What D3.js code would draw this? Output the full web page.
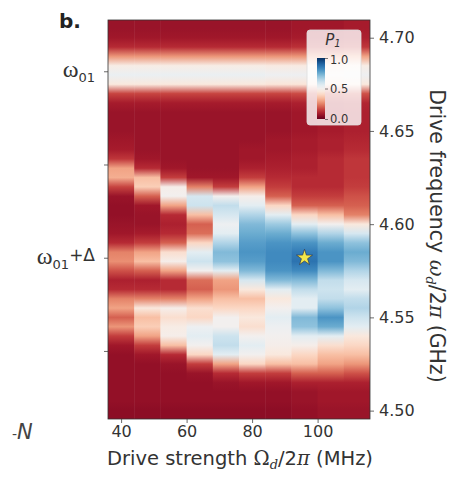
<!DOCTYPE html>
<html>
<head>
<meta charset="utf-8">
<script src="https://cdn.jsdelivr.net/npm/d3@7"></script>
<style>
  html, body { margin: 0; padding: 0; background: #fff; }
  svg { display: block; }
  text { font-family: "DejaVu Sans", sans-serif; }
</style>
</head>
<body>
<svg id="chart" width="456" height="477"></svg>
<script>
// Drive strength columns (MHz), 8 MHz wide each
const driveStrength = [40, 48, 56, 64, 72, 80, 88, 96, 104, 112];

// Drive frequency rows (GHz), top to bottom
const driveFreq = [4.710, 4.705, 4.700, 4.695, 4.690, 4.685, 4.680, 4.675, 4.670, 4.665,
                   4.660, 4.655, 4.650, 4.645, 4.640, 4.635, 4.630, 4.625, 4.620, 4.615,
                   4.610, 4.605, 4.600, 4.595, 4.590, 4.585, 4.580, 4.575, 4.570, 4.565,
                   4.560, 4.555, 4.550, 4.545, 4.540, 4.535, 4.530, 4.525, 4.520, 4.515,
                   4.510, 4.505, 4.500, 4.495];

// Excited-state population P1, one array per drive strength (rows as in driveFreq)
const p1_40  = [.07,.07,.08,.12,.28,.47,.53,.45,.16,.09,.07,.07,.07,.08,.09,.14,.30,.32,.16,.07,
                .06,.06,.07,.08,.12,.25,.27,.18,.10,.12,.25,.30,.20,.28,.15,.08,.06,.06,.06,.06,
                .06,.06,.05,.05];
const p1_48  = [.07,.07,.08,.12,.28,.47,.53,.45,.16,.09,.07,.07,.07,.07,.07,.08,.12,.35,.38,.20,
                .08,.07,.07,.09,.15,.30,.35,.20,.10,.12,.25,.45,.35,.38,.30,.15,.08,.06,.06,.06,
                .06,.06,.05,.05];
const p1_56  = [.07,.07,.08,.12,.28,.47,.53,.45,.16,.09,.07,.07,.07,.07,.07,.07,.08,.15,.48,.50,
                .30,.12,.10,.12,.20,.42,.48,.30,.12,.12,.25,.48,.42,.47,.48,.35,.12,.07,.06,.06,
                .06,.06,.05,.05];
const p1_64  = [.07,.07,.08,.12,.28,.47,.53,.45,.16,.09,.07,.07,.07,.07,.07,.07,.07,.08,.25,.58,
                .60,.35,.20,.22,.40,.55,.60,.50,.22,.20,.30,.42,.40,.52,.55,.50,.40,.15,.07,.06,
                .06,.06,.05,.05];
const p1_72  = [.07,.07,.08,.12,.28,.47,.53,.45,.16,.09,.07,.07,.07,.07,.07,.07,.07,.08,.15,.50,
                .62,.58,.52,.55,.65,.72,.70,.55,.30,.28,.35,.40,.50,.50,.60,.62,.55,.30,.12,.07,
                .06,.06,.05,.05];
const p1_80  = [.07,.07,.08,.12,.28,.47,.53,.45,.16,.09,.07,.07,.07,.07,.08,.08,.10,.15,.30,.48,
                .55,.65,.72,.75,.78,.80,.78,.72,.58,.45,.35,.40,.45,.42,.50,.55,.50,.40,.15,.08,
                .06,.06,.05,.05];
const p1_88  = [.07,.07,.08,.12,.28,.46,.52,.44,.16,.09,.07,.07,.07,.08,.08,.09,.10,.12,.15,.20,
                .40,.55,.68,.75,.80,.82,.82,.80,.72,.55,.45,.50,.55,.52,.50,.48,.45,.35,.15,.08,
                .06,.06,.05,.05];
const p1_96  = [.08,.08,.09,.13,.28,.46,.52,.44,.17,.10,.08,.08,.08,.09,.09,.10,.10,.12,.12,.15,
                .20,.40,.55,.70,.80,.85,.87,.82,.72,.62,.55,.55,.72,.70,.55,.48,.40,.35,.20,.10,
                .07,.07,.06,.06];
const p1_104 = [.08,.08,.09,.13,.28,.45,.50,.43,.17,.10,.09,.09,.09,.10,.10,.12,.12,.12,.12,.15,
                .20,.35,.50,.65,.75,.80,.80,.72,.62,.60,.62,.70,.80,.75,.55,.42,.35,.30,.20,.10,
                .08,.08,.07,.07];
const p1_112 = [.09,.09,.10,.14,.30,.47,.52,.45,.18,.11,.10,.10,.10,.11,.12,.14,.14,.14,.15,.18,
                .20,.25,.45,.58,.70,.75,.72,.65,.58,.55,.62,.65,.60,.55,.45,.40,.35,.28,.18,.10,
                .08,.08,.07,.07];
const p1Columns = [p1_40, p1_48, p1_56, p1_64, p1_72, p1_80, p1_88, p1_96, p1_104, p1_112];

// Axis ticks
const xTicks = [40, 60, 80, 100];
const yTicks = [4.50, 4.55, 4.60, 4.65, 4.70];
const levelFreqs = [4.682, 4.632, 4.582, 4.532];
const colorbarTicks = [0.0, 0.5, 1.0];

// Operating point marked by the star
const starPoint = { drive: 96, freq: 4.582 };

const svg = d3.select("#chart");
const plot = { left: 108, right: 370, top: 20, bottom: 419 };
const colWidth = 8;

const x = d3.scaleLinear()
  .domain([driveStrength[0] - colWidth / 2, driveStrength[driveStrength.length - 1] + colWidth / 2])
  .range([plot.left, plot.right]);
const y = d3.scaleLinear().domain([4.4955, 4.7095]).range([plot.bottom, plot.top]);
const color = d3.scaleSequential(d3.interpolateRdBu).domain([0, 1]);

const defs = svg.append("defs");
defs.append("clipPath").attr("id", "plotClip")
  .append("rect")
  .attr("x", plot.left).attr("y", plot.top)
  .attr("width", plot.right - plot.left).attr("height", plot.bottom - plot.top);

// One vertical gradient per column, stops placed at each frequency row
const yTop = y(driveFreq[0]), yBot = y(driveFreq[driveFreq.length - 1]);
p1Columns.forEach((col, i) => {
  const g = defs.append("linearGradient")
    .attr("id", "col" + i)
    .attr("gradientUnits", "userSpaceOnUse")
    .attr("x1", 0).attr("x2", 0)
    .attr("y1", yTop).attr("y2", yBot);
  g.selectAll("stop").data(col).join("stop")
    .attr("offset", (d, j) => (y(driveFreq[j]) - yTop) / (yBot - yTop))
    .attr("stop-color", d => color(d));
});

const heat = svg.append("g").attr("clip-path", "url(#plotClip)");
heat.selectAll("rect").data(driveStrength).join("rect")
  .attr("x", d => x(d - colWidth / 2))
  .attr("width", d => x(d + colWidth / 2) - x(d - colWidth / 2) + 0.5)
  .attr("y", yTop)
  .attr("height", yBot - yTop)
  .attr("fill", (d, i) => `url(#col${i})`);

// Frame
svg.append("rect")
  .attr("x", plot.left).attr("y", plot.top)
  .attr("width", plot.right - plot.left).attr("height", plot.bottom - plot.top)
  .attr("fill", "none").attr("stroke", "#333").attr("stroke-width", 0.8);

// Star
svg.append("path")
  .attr("d", d3.symbol(d3.symbolStar, 80)())
  .attr("transform", `translate(${x(starPoint.drive)},${y(starPoint.freq)})`)
  .attr("fill", "#f2e84a").attr("stroke", "#2a2a40").attr("stroke-width", 0.6);

// Bottom axis
const xAxis = svg.append("g")
  .attr("transform", `translate(0,${plot.bottom})`)
  .call(d3.axisBottom(x).tickValues(xTicks).tickSize(4).tickPadding(3));
// Right axis
const yAxis = svg.append("g")
  .attr("transform", `translate(${plot.right},0)`)
  .call(d3.axisRight(y).tickValues(yTicks).tickFormat(d3.format(".2f")).tickSize(4).tickPadding(5));
// Left axis (level markers)
const lAxis = svg.append("g")
  .attr("transform", `translate(${plot.left},0)`)
  .call(d3.axisLeft(y).tickValues(levelFreqs).tickFormat("").tickSize(4));

[xAxis, yAxis, lAxis].forEach(a => {
  a.select(".domain").remove();
  a.selectAll(".tick line").attr("stroke", "#444").attr("stroke-width", 0.8);
  a.selectAll(".tick text").attr("fill", "#333").style("font-size", "16px")
    .style("font-family", "'DejaVu Sans', sans-serif");
});

// Level labels on the left
function levelLabel(freq, withDelta) {
  const t = svg.append("text")
    .attr("x", 95).attr("y", y(freq) + 6)
    .attr("text-anchor", "end").attr("fill", "#333");
  t.append("tspan").text("ω").style("font-family", "'Liberation Serif', serif").style("font-size", "24px");
  t.append("tspan").text("01").attr("dy", 5).style("font-size", "13px");
  if (withDelta) {
    t.append("tspan").text("+Δ").attr("dy", -8).style("font-size", "17px");
  }
}
levelLabel(levelFreqs[0], false);
levelLabel(levelFreqs[2], true);

// Axis titles
const xt = svg.append("text")
  .attr("x", (plot.left + plot.right) / 2 + 1).attr("y", 465)
  .attr("text-anchor", "middle").attr("fill", "#333").style("font-size", "19.5px");
xt.append("tspan").text("Drive strength ");
xt.append("tspan").text("Ω").style("font-family", "'DejaVu Serif', serif");
xt.append("tspan").text("d").attr("dy", 4).style("font-size", "13px").style("font-style", "italic")
  .style("font-family", "'DejaVu Serif', serif");
xt.append("tspan").text("/2").attr("dy", -4);
xt.append("tspan").text("π").style("font-style", "italic").style("font-family", "'DejaVu Serif', serif");
xt.append("tspan").text(" (MHz)");

const yt = svg.append("text")
  .attr("transform", `translate(430,236) rotate(90)`)
  .attr("text-anchor", "middle").attr("fill", "#333").style("font-size", "20.5px");
yt.append("tspan").text("Drive frequency ");
yt.append("tspan").text("ω").style("font-style", "italic").style("font-family", "'DejaVu Serif', serif");
yt.append("tspan").text("d").attr("dy", 4).style("font-size", "13px").style("font-style", "italic")
  .style("font-family", "'DejaVu Serif', serif");
yt.append("tspan").text("/2").attr("dy", -4);
yt.append("tspan").text("π").style("font-style", "italic").style("font-family", "'DejaVu Serif', serif");
yt.append("tspan").text(" (GHz)");

// Panel letter and neighbouring-panel label fragment
svg.append("text").attr("x", 59).attr("y", 28).text("b.")
  .attr("fill", "#222").style("font-size", "20px").style("font-weight", "bold");
const nLab = svg.append("text").attr("x", 12).attr("y", 439).attr("fill", "#444");
nLab.append("tspan").text("-").style("font-size", "14px");
nLab.append("tspan").text("N").style("font-size", "21px").style("font-style", "italic");

// Colour bar legend
const leg = { x: 307, y: 30, w: 54, h: 95 };
svg.append("rect")
  .attr("x", leg.x).attr("y", leg.y).attr("width", leg.w).attr("height", leg.h)
  .attr("rx", 3).attr("fill", "#fff").attr("fill-opacity", 0.8)
  .attr("stroke", "#ddd").attr("stroke-width", 0.8);
const pt = svg.append("text").attr("x", 333).attr("y", 45)
  .attr("text-anchor", "middle").attr("fill", "#333");
pt.append("tspan").text("P").style("font-size", "15px").style("font-style", "italic");
pt.append("tspan").text("1").attr("dy", 2).style("font-size", "10px").style("font-style", "italic");

const cb = { x: 317, w: 8, top: 58, bottom: 119 };
const cbScale = d3.scaleLinear().domain([0, 1]).range([cb.bottom, cb.top]);
const cbGrad = defs.append("linearGradient").attr("id", "cbGrad")
  .attr("x1", 0).attr("x2", 0).attr("y1", 1).attr("y2", 0);
cbGrad.selectAll("stop").data(d3.range(0, 1.0001, 0.05)).join("stop")
  .attr("offset", d => d).attr("stop-color", d => color(d));
svg.append("rect").attr("x", cb.x).attr("y", cb.top).attr("width", cb.w)
  .attr("height", cb.bottom - cb.top).attr("fill", "url(#cbGrad)");
const cbAxis = svg.append("g").attr("transform", `translate(${cb.x + cb.w},0)`)
  .call(d3.axisRight(cbScale).tickValues(colorbarTicks).tickFormat(d3.format(".1f")).tickSize(3).tickPadding(2));
cbAxis.select(".domain").remove();
cbAxis.selectAll(".tick line").attr("stroke", "#444").attr("stroke-width", 0.7);
cbAxis.selectAll(".tick text").attr("fill", "#333").style("font-size", "11.5px")
  .style("font-family", "'DejaVu Sans', sans-serif");
cbAxis.selectAll(".tick").filter(d => d === 1).select("text").attr("dy", "0.45em");
</script>
</body>
</html>
